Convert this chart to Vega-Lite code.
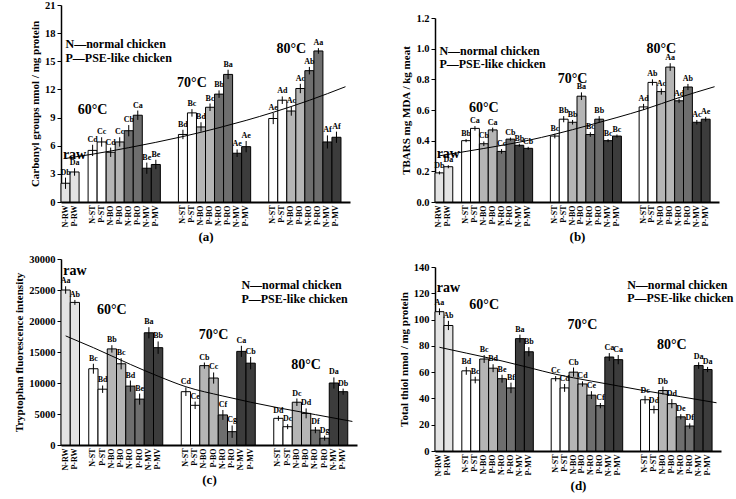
{
  "$schema": "https://vega.github.io/schema/vega-lite/v6.json",
  "padding": {"left": 13, "top": 0, "right": 0, "bottom": 0},
  "config": {
    "view": {"stroke": null},
    "font": "Liberation Serif",
    "axis": {"labelFont": "Liberation Serif", "titleFont": "Liberation Serif", "labelFontWeight": "bold", "titleFontWeight": "bold", "labelColor": "black", "titleColor": "black", "domainColor": "black", "tickColor": "black", "grid": false, "labelOverlap": false},
    "axisX": {"labelAngle": -90, "ticks": false, "domainWidth": 2, "labelFontSize": 8, "labelPadding": 3, "titleFontSize": 13, "titlePadding": 4},
    "axisY": {"domainWidth": 1.5, "tickSize": 4, "labelFontSize": 10.5, "titleFontSize": 11, "labelPadding": 2, "titlePadding": 4}
  },
  "datasets": {
    "a": [
      {"cat": "raw|N-RW", "value": 2.0, "err": 0.6, "sig": "Db"},
      {"cat": "raw|P-RW", "value": 3.2, "err": 0.4, "sig": "Da"},
      {"cat": "60|N-ST", "value": 5.5, "err": 0.6, "sig": "Cd"},
      {"cat": "60|P-ST", "value": 6.4, "err": 0.5, "sig": "Cc"},
      {"cat": "60|N-BO", "value": 5.3, "err": 0.5, "sig": "Cd"},
      {"cat": "60|P-BO", "value": 6.4, "err": 0.5, "sig": "Cc"},
      {"cat": "60|N-RO", "value": 7.6, "err": 0.6, "sig": "Cb"},
      {"cat": "60|P-RO", "value": 9.25, "err": 0.5, "sig": "Ca"},
      {"cat": "60|N-MV", "value": 3.6, "err": 0.6, "sig": "Be"},
      {"cat": "60|P-MV", "value": 4.0, "err": 0.5, "sig": "Be"},
      {"cat": "70|N-ST", "value": 7.2, "err": 0.5, "sig": "Bd"},
      {"cat": "70|P-ST", "value": 9.5, "err": 0.4, "sig": "Bc"},
      {"cat": "70|N-BO", "value": 8.0, "err": 0.5, "sig": "Bd"},
      {"cat": "70|P-BO", "value": 10.1, "err": 0.4, "sig": "Bc"},
      {"cat": "70|N-RO", "value": 11.5, "err": 0.4, "sig": "Bb"},
      {"cat": "70|P-RO", "value": 13.6, "err": 0.5, "sig": "Ba"},
      {"cat": "70|N-MV", "value": 5.2, "err": 0.4, "sig": "Ae"},
      {"cat": "70|P-MV", "value": 5.9, "err": 0.6, "sig": "Ae"},
      {"cat": "80|N-ST", "value": 8.9, "err": 0.6, "sig": "Ae"},
      {"cat": "80|P-ST", "value": 10.85, "err": 0.4, "sig": "Ad"},
      {"cat": "80|N-BO", "value": 9.7, "err": 0.5, "sig": "Ac"},
      {"cat": "80|P-BO", "value": 12.1, "err": 0.5, "sig": "Ac"},
      {"cat": "80|N-RO", "value": 14.0, "err": 0.4, "sig": "Ab"},
      {"cat": "80|P-RO", "value": 16.1, "err": 0.3, "sig": "Aa"},
      {"cat": "80|N-MV", "value": 6.4, "err": 0.7, "sig": "Af"},
      {"cat": "80|P-MV", "value": 6.9, "err": 0.6, "sig": "Af"}
    ],
    "b": [
      {"cat": "raw|N-RW", "value": 0.19, "err": 0.01, "sig": "Db"},
      {"cat": "raw|P-RW", "value": 0.23, "err": 0.01, "sig": "Da"},
      {"cat": "60|N-ST", "value": 0.40, "err": 0.01, "sig": "Bb"},
      {"cat": "60|P-ST", "value": 0.48, "err": 0.015, "sig": "Ca"},
      {"cat": "60|N-BO", "value": 0.38, "err": 0.015, "sig": "Cb"},
      {"cat": "60|P-BO", "value": 0.47, "err": 0.015, "sig": "Ca"},
      {"cat": "60|N-RO", "value": 0.33, "err": 0.015, "sig": "Cc"},
      {"cat": "60|P-RO", "value": 0.41, "err": 0.01, "sig": "Cb"},
      {"cat": "60|N-MV", "value": 0.37, "err": 0.01, "sig": "Bb"},
      {"cat": "60|P-MV", "value": 0.35, "err": 0.01, "sig": "Cb"},
      {"cat": "70|N-ST", "value": 0.43, "err": 0.015, "sig": "Bc"},
      {"cat": "70|P-ST", "value": 0.54, "err": 0.02, "sig": "Bb"},
      {"cat": "70|N-BO", "value": 0.52, "err": 0.015, "sig": "Bb"},
      {"cat": "70|P-BO", "value": 0.69, "err": 0.025, "sig": "Ba"},
      {"cat": "70|N-RO", "value": 0.44, "err": 0.015, "sig": "Bc"},
      {"cat": "70|P-RO", "value": 0.54, "err": 0.02, "sig": "Bb"},
      {"cat": "70|N-MV", "value": 0.40, "err": 0.01, "sig": "Bc"},
      {"cat": "70|P-MV", "value": 0.43, "err": 0.01, "sig": "Bc"},
      {"cat": "80|N-ST", "value": 0.62, "err": 0.02, "sig": "Ad"},
      {"cat": "80|P-ST", "value": 0.78, "err": 0.02, "sig": "Ab"},
      {"cat": "80|N-BO", "value": 0.72, "err": 0.02, "sig": "Ac"},
      {"cat": "80|P-BO", "value": 0.88, "err": 0.025, "sig": "Aa"},
      {"cat": "80|N-RO", "value": 0.66, "err": 0.015, "sig": "Ad"},
      {"cat": "80|P-RO", "value": 0.75, "err": 0.02, "sig": "Ab"},
      {"cat": "80|N-MV", "value": 0.52, "err": 0.015, "sig": "Ac"},
      {"cat": "80|P-MV", "value": 0.54, "err": 0.015, "sig": "Ae"}
    ],
    "c": [
      {"cat": "raw|N-RW", "value": 25000, "err": 600, "sig": "Aa"},
      {"cat": "raw|P-RW", "value": 23000, "err": 400, "sig": "Ab"},
      {"cat": "60|N-ST", "value": 12300, "err": 800, "sig": "Bc"},
      {"cat": "60|P-ST", "value": 9000, "err": 600, "sig": "Bd"},
      {"cat": "60|N-BO", "value": 15500, "err": 600, "sig": "Bb"},
      {"cat": "60|P-BO", "value": 13100, "err": 900, "sig": "Bc"},
      {"cat": "60|N-RO", "value": 9500, "err": 900, "sig": "Bd"},
      {"cat": "60|P-RO", "value": 7400, "err": 900, "sig": "Be"},
      {"cat": "60|N-MV", "value": 18100, "err": 900, "sig": "Ba"},
      {"cat": "60|P-MV", "value": 15700, "err": 1000, "sig": "Bb"},
      {"cat": "70|N-ST", "value": 8600, "err": 700, "sig": "Cd"},
      {"cat": "70|P-ST", "value": 6400, "err": 600, "sig": "Ce"},
      {"cat": "70|N-BO", "value": 12800, "err": 500, "sig": "Cb"},
      {"cat": "70|P-BO", "value": 10800, "err": 900, "sig": "Cc"},
      {"cat": "70|N-RO", "value": 4850, "err": 800, "sig": "Cf"},
      {"cat": "70|P-RO", "value": 2150, "err": 1000, "sig": "Cg"},
      {"cat": "70|N-MV", "value": 15100, "err": 900, "sig": "Ca"},
      {"cat": "70|P-MV", "value": 13200, "err": 1000, "sig": "Cb"},
      {"cat": "80|N-ST", "value": 4300, "err": 400, "sig": "Dd"},
      {"cat": "80|P-ST", "value": 2950, "err": 400, "sig": "Dc"},
      {"cat": "80|N-BO", "value": 6900, "err": 600, "sig": "Dc"},
      {"cat": "80|P-BO", "value": 5100, "err": 800, "sig": "Dd"},
      {"cat": "80|N-RO", "value": 2400, "err": 500, "sig": "Df"},
      {"cat": "80|P-RO", "value": 1100, "err": 400, "sig": "Dg"},
      {"cat": "80|N-MV", "value": 10000, "err": 900, "sig": "Da"},
      {"cat": "80|P-MV", "value": 8600, "err": 500, "sig": "Db"}
    ],
    "d": [
      {"cat": "raw|N-RW", "value": 106, "err": 2.5, "sig": "Aa"},
      {"cat": "raw|P-RW", "value": 95.5, "err": 3.5, "sig": "Ab"},
      {"cat": "60|N-ST", "value": 61, "err": 3, "sig": "Bd"},
      {"cat": "60|P-ST", "value": 54, "err": 2.5, "sig": "Bc"},
      {"cat": "60|N-BO", "value": 70, "err": 3, "sig": "Bc"},
      {"cat": "60|P-BO", "value": 63, "err": 3, "sig": "Bd"},
      {"cat": "60|N-RO", "value": 55, "err": 3, "sig": "Be"},
      {"cat": "60|P-RO", "value": 48, "err": 4, "sig": "Bf"},
      {"cat": "60|N-MV", "value": 85.5, "err": 3, "sig": "Ba"},
      {"cat": "60|P-MV", "value": 75.5, "err": 3.5, "sig": "Bb"},
      {"cat": "70|N-ST", "value": 55, "err": 2, "sig": "Cc"},
      {"cat": "70|P-ST", "value": 48, "err": 3, "sig": "Cd"},
      {"cat": "70|N-BO", "value": 60, "err": 3.5, "sig": "Cb"},
      {"cat": "70|P-BO", "value": 51, "err": 2, "sig": "Cd"},
      {"cat": "70|N-RO", "value": 42.5, "err": 3, "sig": "Ce"},
      {"cat": "70|P-RO", "value": 34.5, "err": 2, "sig": "Cf"},
      {"cat": "70|N-MV", "value": 71.5, "err": 3, "sig": "Ca"},
      {"cat": "70|P-MV", "value": 69.5, "err": 3.5, "sig": "Ca"},
      {"cat": "80|N-ST", "value": 39, "err": 3, "sig": "Dc"},
      {"cat": "80|P-ST", "value": 31.5, "err": 3, "sig": "Dd"},
      {"cat": "80|N-BO", "value": 46, "err": 3, "sig": "Db"},
      {"cat": "80|P-BO", "value": 36, "err": 3.5, "sig": "Dd"},
      {"cat": "80|N-RO", "value": 26, "err": 2, "sig": "De"},
      {"cat": "80|P-RO", "value": 19, "err": 2, "sig": "Df"},
      {"cat": "80|N-MV", "value": 65, "err": 2.5, "sig": "Da"},
      {"cat": "80|P-MV", "value": 62, "err": 2, "sig": "Da"}
    ],
    "ta": [
      {"cat": "raw|N-RW", "value": 4.64}, {"cat": "60|N-ST", "value": 5.10}, {"cat": "60|N-RO", "value": 5.79},
      {"cat": "60|P-MV", "value": 6.36}, {"cat": "70|N-ST", "value": 6.98}, {"cat": "70|N-RO", "value": 7.92},
      {"cat": "70|P-MV", "value": 8.70}, {"cat": "80|N-ST", "value": 9.56}, {"cat": "80|N-RO", "value": 10.84},
      {"cat": "g6", "value": 12.29}
    ],
    "tb": [
      {"cat": "raw|N-RW", "value": 0.301}, {"cat": "60|N-ST", "value": 0.330}, {"cat": "60|N-RO", "value": 0.369},
      {"cat": "60|P-MV", "value": 0.402}, {"cat": "70|N-ST", "value": 0.442}, {"cat": "70|N-RO", "value": 0.503},
      {"cat": "70|P-MV", "value": 0.551}, {"cat": "80|N-ST", "value": 0.602}, {"cat": "80|N-RO", "value": 0.681},
      {"cat": "g6", "value": 0.752}
    ],
    "tc": [
      {"cat": "raw|N-RW", "value": 17600}, {"cat": "60|N-ST", "value": 15700}, {"cat": "60|N-RO", "value": 13000},
      {"cat": "60|P-MV", "value": 11100}, {"cat": "70|N-ST", "value": 9400}, {"cat": "70|N-RO", "value": 7900},
      {"cat": "70|P-MV", "value": 6900}, {"cat": "80|N-ST", "value": 6000}, {"cat": "80|N-RO", "value": 4900},
      {"cat": "g6", "value": 3800}
    ],
    "td": [
      {"cat": "raw|N-RW", "value": 78.9}, {"cat": "60|N-ST", "value": 74.5}, {"cat": "60|N-RO", "value": 68.5},
      {"cat": "60|P-MV", "value": 63.5}, {"cat": "70|N-ST", "value": 58.4}, {"cat": "70|N-RO", "value": 53.2},
      {"cat": "70|P-MV", "value": 49.5}, {"cat": "80|N-ST", "value": 45.8}, {"cat": "80|N-RO", "value": 41.3},
      {"cat": "g6", "value": 36.7}
    ]
  },
  "columns": 2,
  "bounds": "flush",
  "spacing": {"column": 78, "row": 57},
  "concat": [
    {
      "width": 289, "height": 197,
      "data": {"name": "a"},
      "transform": [{"calculate": "slice(datum.cat, -2)", "as": "trt"}, {"calculate": "datum.value + datum.err", "as": "top"}],
      "encoding": {
        "x": {"field": "cat", "type": "nominal", "sort": null,
          "scale": {"domain": ["raw|N-RW","raw|P-RW","g1","60|N-ST","60|P-ST","60|N-BO","60|P-BO","60|N-RO","60|P-RO","60|N-MV","60|P-MV","g2","g3","70|N-ST","70|P-ST","70|N-BO","70|P-BO","70|N-RO","70|P-RO","70|N-MV","70|P-MV","g4","g5","80|N-ST","80|P-ST","80|N-BO","80|P-BO","80|N-RO","80|P-RO","80|N-MV","80|P-MV","g6"], "paddingInner": 0, "paddingOuter": 0},
          "axis": {"title": "(a)", "labelExpr": "indexof(datum.value, '|') >= 0 ? split(datum.value, '|')[1] : ''"}},
        "y": {"field": "value", "type": "quantitative", "title": "Carbonyl groups nmol / mg protein", "scale": {"domain": [0, 21], "nice": false}, "axis": {"values": [0, 3, 6, 9, 12, 15, 18, 21]}}
      },
      "layer": [
        {"mark": {"type": "bar", "stroke": "black", "strokeWidth": 1},
         "encoding": {
           "fill": {"field": "trt", "type": "nominal", "scale": {"domain": ["RW", "ST", "BO", "RO", "MV"], "range": ["#e3e3e3", "#ffffff", "#b5b5b5", "#6e6e6e", "#3c3c3c"]}, "legend": null}}},
        {"mark": {"type": "errorbar", "ticks": false, "color": "black", "thickness": 1},
         "encoding": {"yError": {"field": "err"}}},
        {"mark": {"type": "text", "baseline": "bottom", "dy": -1, "fontSize": 8, "fontWeight": "bold", "color": "black"},
         "encoding": {"y": {"field": "top", "type": "quantitative", "title": "Carbonyl groups nmol / mg protein", "axis": {"values": [0, 3, 6, 9, 12, 15, 18, 21]}}, "text": {"field": "sig"}}},
        {"data": {"name": "ta"}, "mark": {"type": "line", "interpolate": "monotone", "color": "black", "strokeWidth": 1}, "encoding": {}},
        {"data": {"values": [{"cat": "raw|P-RW", "value": 5.0, "label": "raw"}, {"cat": "60|N-ST", "value": 9.8, "label": "60°C"}, {"cat": "70|P-ST", "value": 12.7, "label": "70°C"}, {"cat": "80|N-BO", "value": 16.3, "label": "80°C"}]},
         "mark": {"type": "text", "fontSize": 14, "fontWeight": "bold", "baseline": "middle", "color": "black"},
         "encoding": {"text": {"field": "label"}}},
        {"data": {"values": [{"cat": "raw|N-RW", "value": 16.8, "label": "N—normal chicken"}, {"cat": "raw|N-RW", "value": 15.4, "label": "P—PSE-like chicken"}]},
         "mark": {"type": "text", "fontSize": 12, "fontWeight": "bold", "align": "left", "baseline": "middle", "color": "black"},
         "encoding": {"text": {"field": "label"}}}
      ]
    },
    {
      "width": 284, "height": 197,
      "data": {"name": "b"},
      "transform": [{"calculate": "slice(datum.cat, -2)", "as": "trt"}, {"calculate": "datum.value + datum.err", "as": "top"}],
      "encoding": {
        "x": {"field": "cat", "type": "nominal", "sort": null,
          "scale": {"domain": ["raw|N-RW","raw|P-RW","g1","60|N-ST","60|P-ST","60|N-BO","60|P-BO","60|N-RO","60|P-RO","60|N-MV","60|P-MV","g2","g3","70|N-ST","70|P-ST","70|N-BO","70|P-BO","70|N-RO","70|P-RO","70|N-MV","70|P-MV","g4","g5","80|N-ST","80|P-ST","80|N-BO","80|P-BO","80|N-RO","80|P-RO","80|N-MV","80|P-MV","g6"], "paddingInner": 0, "paddingOuter": 0},
          "axis": {"title": "(b)", "labelExpr": "indexof(datum.value, '|') >= 0 ? split(datum.value, '|')[1] : ''"}},
        "y": {"field": "value", "type": "quantitative", "title": "TBARS mg MDA / kg meat", "scale": {"domain": [0, 1.2], "nice": false, "range": [197, 13]}, "axis": {"values": [0, 0.2, 0.4, 0.6, 0.8, 1.0, 1.2], "format": ".1f"}}
      },
      "layer": [
        {"mark": {"type": "bar", "stroke": "black", "strokeWidth": 1},
         "encoding": {
           "fill": {"field": "trt", "type": "nominal", "scale": {"domain": ["RW", "ST", "BO", "RO", "MV"], "range": ["#e3e3e3", "#ffffff", "#b5b5b5", "#6e6e6e", "#3c3c3c"]}, "legend": null}}},
        {"mark": {"type": "errorbar", "ticks": false, "color": "black", "thickness": 1},
         "encoding": {"yError": {"field": "err"}}},
        {"mark": {"type": "text", "baseline": "bottom", "dy": -1, "fontSize": 8, "fontWeight": "bold", "color": "black"},
         "encoding": {"y": {"field": "top", "type": "quantitative", "title": "TBARS mg MDA / kg meat", "axis": {"values": [0, 0.2, 0.4, 0.6, 0.8, 1.0, 1.2], "format": ".1f"}}, "text": {"field": "sig"}}},
        {"data": {"name": "tb"}, "mark": {"type": "line", "interpolate": "monotone", "color": "black", "strokeWidth": 1}, "encoding": {}},
        {"data": {"values": [{"cat": "raw|P-RW", "value": 0.313, "label": "raw"}, {"cat": "60|N-BO", "value": 0.613, "label": "60°C"}, {"cat": "70|N-BO", "value": 0.80, "label": "70°C"}, {"cat": "80|N-BO", "value": 1.0, "label": "80°C"}]},
         "mark": {"type": "text", "fontSize": 14, "fontWeight": "bold", "baseline": "middle", "color": "black"},
         "encoding": {"text": {"field": "label"}}},
        {"data": {"values": [{"cat": "raw|N-RW", "value": 0.983, "label": "N—normal chicken"}, {"cat": "raw|N-RW", "value": 0.90, "label": "P—PSE-like chicken"}]},
         "mark": {"type": "text", "fontSize": 12, "fontWeight": "bold", "align": "left", "baseline": "middle", "color": "black"},
         "encoding": {"text": {"field": "label"}}}
      ]
    },
    {
      "width": 296, "height": 186,
      "data": {"name": "c"},
      "transform": [{"calculate": "slice(datum.cat, -2)", "as": "trt"}, {"calculate": "datum.value + datum.err", "as": "top"}],
      "encoding": {
        "x": {"field": "cat", "type": "nominal", "sort": null,
          "scale": {"domain": ["raw|N-RW","raw|P-RW","g1","60|N-ST","60|P-ST","60|N-BO","60|P-BO","60|N-RO","60|P-RO","60|N-MV","60|P-MV","g2","g3","70|N-ST","70|P-ST","70|N-BO","70|P-BO","70|N-RO","70|P-RO","70|N-MV","70|P-MV","g4","g5","80|N-ST","80|P-ST","80|N-BO","80|P-BO","80|N-RO","80|P-RO","80|N-MV","80|P-MV","g6"], "paddingInner": 0, "paddingOuter": 0},
          "axis": {"title": "(c)", "labelExpr": "indexof(datum.value, '|') >= 0 ? split(datum.value, '|')[1] : ''"}},
        "y": {"field": "value", "type": "quantitative", "title": "Tryptophan fluorescence intensity", "scale": {"domain": [0, 30000], "nice": false}, "axis": {"values": [0, 5000, 10000, 15000, 20000, 25000, 30000], "format": "d"}}
      },
      "layer": [
        {"mark": {"type": "bar", "stroke": "black", "strokeWidth": 1},
         "encoding": {
           "fill": {"field": "trt", "type": "nominal", "scale": {"domain": ["RW", "ST", "BO", "RO", "MV"], "range": ["#e3e3e3", "#ffffff", "#b5b5b5", "#6e6e6e", "#3c3c3c"]}, "legend": null}}},
        {"mark": {"type": "errorbar", "ticks": false, "color": "black", "thickness": 1},
         "encoding": {"yError": {"field": "err"}}},
        {"mark": {"type": "text", "baseline": "bottom", "dy": -1, "fontSize": 8, "fontWeight": "bold", "color": "black"},
         "encoding": {"y": {"field": "top", "type": "quantitative", "title": "Tryptophan fluorescence intensity", "axis": {"values": [0, 5000, 10000, 15000, 20000, 25000, 30000], "format": "d"}}, "text": {"field": "sig"}}},
        {"data": {"name": "tc"}, "mark": {"type": "line", "interpolate": "monotone", "color": "black", "strokeWidth": 1}, "encoding": {}},
        {"data": {"values": [{"cat": "raw|P-RW", "value": 28000, "label": "raw"}, {"cat": "60|N-BO", "value": 21800, "label": "60°C"}, {"cat": "70|P-BO", "value": 17700, "label": "70°C"}, {"cat": "80|P-BO", "value": 12900, "label": "80°C"}]},
         "mark": {"type": "text", "fontSize": 14, "fontWeight": "bold", "baseline": "middle", "color": "black"},
         "encoding": {"text": {"field": "label"}}},
        {"data": {"values": [{"cat": "70|N-MV", "value": 25800, "label": "N—normal chicken"}, {"cat": "70|N-MV", "value": 23500, "label": "P—PSE-like chicken"}]},
         "mark": {"type": "text", "fontSize": 12, "fontWeight": "bold", "align": "left", "baseline": "middle", "color": "black"},
         "encoding": {"text": {"field": "label"}}}
      ]
    },
    {
      "width": 286, "height": 192,
      "data": {"name": "d"},
      "transform": [{"calculate": "slice(datum.cat, -2)", "as": "trt"}, {"calculate": "datum.value + datum.err", "as": "top"}],
      "encoding": {
        "x": {"field": "cat", "type": "nominal", "sort": null,
          "scale": {"domain": ["raw|N-RW","raw|P-RW","g1","60|N-ST","60|P-ST","60|N-BO","60|P-BO","60|N-RO","60|P-RO","60|N-MV","60|P-MV","g2","g3","70|N-ST","70|P-ST","70|N-BO","70|P-BO","70|N-RO","70|P-RO","70|N-MV","70|P-MV","g4","g5","80|N-ST","80|P-ST","80|N-BO","80|P-BO","80|N-RO","80|P-RO","80|N-MV","80|P-MV","g6"], "paddingInner": 0, "paddingOuter": 0},
          "axis": {"title": "(d)", "labelExpr": "indexof(datum.value, '|') >= 0 ? split(datum.value, '|')[1] : ''"}},
        "y": {"field": "value", "type": "quantitative", "title": "Total  thiol nmol / mg protein", "scale": {"domain": [0, 140], "nice": false, "range": [192, 8]}, "axis": {"values": [0, 20, 40, 60, 80, 100, 120, 140]}}
      },
      "layer": [
        {"mark": {"type": "bar", "stroke": "black", "strokeWidth": 1},
         "encoding": {
           "fill": {"field": "trt", "type": "nominal", "scale": {"domain": ["RW", "ST", "BO", "RO", "MV"], "range": ["#e3e3e3", "#ffffff", "#b5b5b5", "#6e6e6e", "#3c3c3c"]}, "legend": null}}},
        {"mark": {"type": "errorbar", "ticks": false, "color": "black", "thickness": 1},
         "encoding": {"yError": {"field": "err"}}},
        {"mark": {"type": "text", "baseline": "bottom", "dy": -1, "fontSize": 8, "fontWeight": "bold", "color": "black"},
         "encoding": {"y": {"field": "top", "type": "quantitative", "title": "Total  thiol nmol / mg protein", "axis": {"values": [0, 20, 40, 60, 80, 100, 120, 140]}}, "text": {"field": "sig"}}},
        {"data": {"name": "td"}, "mark": {"type": "line", "interpolate": "monotone", "color": "black", "strokeWidth": 1}, "encoding": {}},
        {"data": {"values": [{"cat": "raw|P-RW", "value": 124, "label": "raw"}, {"cat": "60|N-BO", "value": 111, "label": "60°C"}, {"cat": "70|P-BO", "value": 95.7, "label": "70°C"}, {"cat": "80|P-BO", "value": 80.5, "label": "80°C"}]},
         "mark": {"type": "text", "fontSize": 14, "fontWeight": "bold", "baseline": "middle", "color": "black"},
         "encoding": {"text": {"field": "label"}}},
        {"data": {"values": [{"cat": "g4", "value": 126, "label": "N—normal chicken"}, {"cat": "g4", "value": 116.5, "label": "P—PSE-like chicken"}]},
         "mark": {"type": "text", "fontSize": 12, "fontWeight": "bold", "align": "left", "baseline": "middle", "color": "black"},
         "encoding": {"text": {"field": "label"}}}
      ]
    }
  ]
}
